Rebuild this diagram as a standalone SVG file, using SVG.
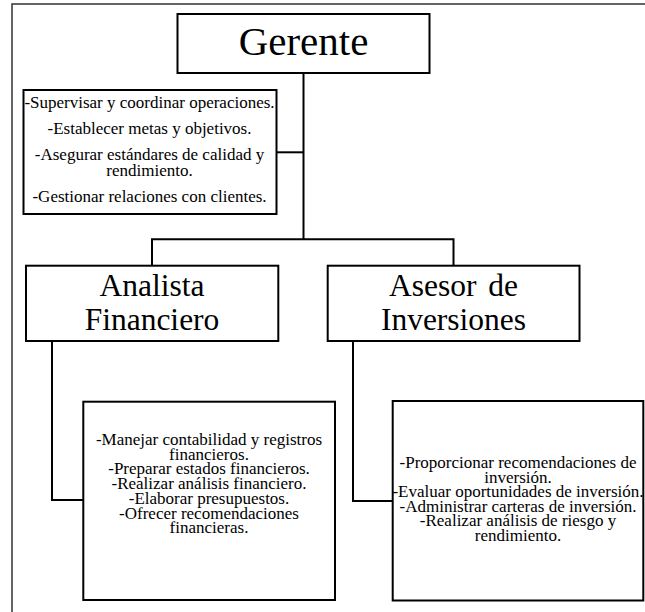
<svg xmlns="http://www.w3.org/2000/svg" width="645" height="612" viewBox="0 0 645 612">
<style>
.box{fill:#fff;stroke:#000;stroke-width:2}
.ln{fill:none;stroke:#000;stroke-width:2}
.frame{fill:none;stroke:#333;stroke-width:1.5}
text{fill:#000;text-anchor:middle}
.big{font-size:41px}
.mid{font-size:31.5px}
.sm{font-size:17px}
</style>
<rect width="645" height="612" fill="#fff"/>
<path class="frame" d="M12,612 V4 H645"/>
<g id="connectors">
<path class="ln" d="M303.5,73 V239.3"/>
<path class="ln" d="M276.7,152.3 H303.5"/>
<path class="ln" d="M152,265.7 V239.3 H453.5 V265.7"/>
<path class="ln" d="M52,341 V500 H83.3"/>
<path class="ln" d="M353,341 V501 H392.7"/>
</g>
<g id="gerente" font-family="'Liberation Serif'">
<rect class="box" x="177.5" y="14" width="252" height="59"/>
<text class="big" x="303.5" y="55">Gerente</text>
</g>
<g id="tareas-gerente" font-family="'Liberation Serif'">
<rect class="box" x="23.5" y="90" width="253" height="124"/>
<text class="sm" x="149.5" y="108">-Supervisar y coordinar operaciones.</text>
<text class="sm" x="149.5" y="134">-Establecer metas y objetivos.</text>
<text class="sm" x="149.5" y="160">-Asegurar estándares de calidad y</text>
<text class="sm" x="149.5" y="176">rendimiento.</text>
<text class="sm" x="149.5" y="202">-Gestionar relaciones con clientes.</text>
</g>
<g id="analista" font-family="'Liberation Serif'">
<rect class="box" x="26" y="265.7" width="252.3" height="75.3"/>
<text class="mid" x="152" y="296">Analista</text>
<text class="mid" x="152" y="330">Financiero</text>
</g>
<g id="asesor" font-family="'Liberation Serif'">
<rect class="box" x="327.7" y="265.7" width="251.8" height="75.3"/>
<text class="mid" x="453.5" y="296" word-spacing="4">Asesor de</text>
<text class="mid" x="453.5" y="330">Inversiones</text>
</g>
<g id="tareas-analista" font-family="'Liberation Serif'">
<rect class="box" x="83.3" y="401.7" width="251.7" height="198.3"/>
<text class="sm" x="209" y="445">-Manejar contabilidad y registros</text>
<text class="sm" x="209" y="459.7">financieros.</text>
<text class="sm" x="209" y="474.4">-Preparar estados financieros.</text>
<text class="sm" x="209" y="489.1">-Realizar análisis financiero.</text>
<text class="sm" x="209" y="503.8">-Elaborar presupuestos.</text>
<text class="sm" x="209" y="518.5">-Ofrecer recomendaciones</text>
<text class="sm" x="209" y="533.2">financieras.</text>
</g>
<g id="tareas-asesor" font-family="'Liberation Serif'">
<rect class="box" x="392.7" y="401" width="250.6" height="199.5"/>
<text class="sm" x="518" y="468">-Proporcionar recomendaciones de</text>
<text class="sm" x="518" y="482.5">inversión.</text>
<text class="sm" x="518" y="497">-Evaluar oportunidades de inversión.</text>
<text class="sm" x="518" y="511.5">-Administrar carteras de inversión.</text>
<text class="sm" x="518" y="526">-Realizar análisis de riesgo y</text>
<text class="sm" x="518" y="540.5">rendimiento.</text>
</g>
</svg>
